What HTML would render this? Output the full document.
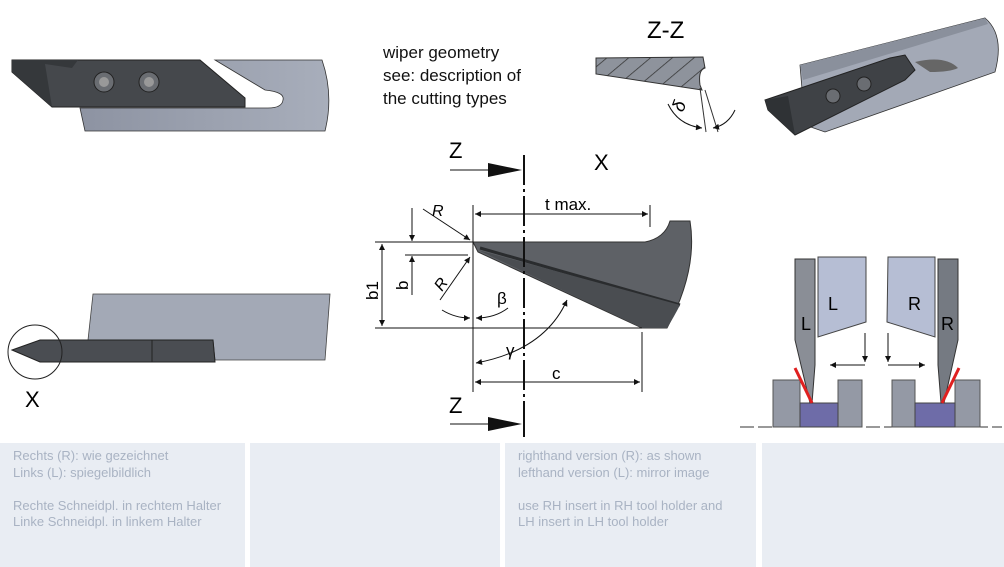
<!DOCTYPE html>
<html><head><meta charset="utf-8"><style>
body{margin:0;background:#fff;width:1004px;height:567px;overflow:hidden;font-family:"Liberation Sans","DejaVu Sans",sans-serif}
.p{position:absolute;top:443px;height:124px;background:#e9edf3;color:#a9b3c3;font-size:13px;line-height:16.5px;padding:5px 0 0 13px;box-sizing:border-box}
</style></head><body>
<svg width="1004" height="443" style="position:absolute;left:0;top:0" font-family="Liberation Sans, DejaVu Sans, sans-serif">
<defs>
<marker id="a" viewBox="0 0 10 10" refX="10" refY="5" markerWidth="9" markerHeight="6" orient="auto-start-reverse"><path d="M0,0L10,5L0,10z" fill="#111"/></marker>
<linearGradient id="hg" x1="0" x2="1"><stop offset="0" stop-color="#8d93a2"/><stop offset="1" stop-color="#a8aebb"/></linearGradient>
<pattern id="hatch" width="14" height="14" patternUnits="userSpaceOnUse" patternTransform="rotate(50)"><rect width="14" height="14" fill="#8e939c"/><line x1="0" y1="0" x2="0" y2="14" stroke="#333" stroke-width="1.5"/></pattern>
</defs>
<!-- top-left holder -->
<path d="M80,108 L85,131 L325,131 Q334,95 322,60 L215,60 L265,90 Q285,92 283,100 Q282,108 268,108 Z" fill="url(#hg)" stroke="#333" stroke-width="0.8"/>
<path d="M12,60 L200,60 L245,98 L245,107 L52,107 L12,72 Z" fill="#45484c" stroke="#222"/>
<path d="M12,60 L78,60 L72,68 L45,64 L52,107 L12,72Z" fill="#35383b"/>
<circle cx="104" cy="82" r="10" fill="#6a6d72" stroke="#222"/><circle cx="104" cy="82" r="5" fill="#999"/>
<circle cx="149" cy="82" r="10" fill="#6a6d72" stroke="#222"/><circle cx="149" cy="82" r="5" fill="#999"/>
<!-- bottom-left holder -->
<path d="M93,294 L330,294 L325,360 L215,360 L213,340 L88,340 Z" fill="#a3a9b6" stroke="#444" stroke-width="0.8"/>
<path d="M12,350 L40,340 L213,340 L215,362 L40,362 Z" fill="#4a4d52" stroke="#222"/>
<line x1="152" y1="340" x2="152" y2="362" stroke="#222"/>
<circle cx="35" cy="352" r="27" fill="none" stroke="#222"/>
<text x="25" y="407" font-size="22">X</text>
<!-- wiper text -->
<text font-size="17" fill="#111"><tspan x="383" y="58">wiper geometry</tspan><tspan x="383" y="81">see: description of</tspan><tspan x="383" y="104">the cutting types</tspan></text>
<!-- Z-Z -->
<text x="647" y="38" font-size="24">Z-Z</text>
<path d="M596,58 L703,57 L705,68 Q698,70 700,85 L702,90 L596,74 Z" fill="url(#hatch)" stroke="#333"/>
<line x1="700" y1="88" x2="706" y2="132" stroke="#333"/><line x1="705" y1="90" x2="718" y2="132" stroke="#333"/>
<path d="M668,104 Q678,125 702,128" fill="none" stroke="#111" marker-end="url(#a)"/>
<path d="M735,110 Q728,125 713,128" fill="none" stroke="#111" marker-end="url(#a)"/>
<text x="674" y="108" font-size="18" font-style="italic" transform="rotate(-70 682 104)">δ</text>
<!-- 3D tool -->
<path d="M800,65 L985,18 Q1005,35 995,72 L825,132 L805,125 Z" fill="#a3a9b6" stroke="#333" stroke-width="0.8"/>
<path d="M800,65 L985,18 L988,24 L803,80Z" fill="#8a909c"/>
<path d="M915,62 Q945,55 958,68 Q950,72 930,72 Z" fill="#666"/>
<path d="M765,100 L890,58 L905,55 L915,70 L905,80 L795,135 L768,110 Z" fill="#3f4246" stroke="#222"/>
<path d="M765,100 L788,96 L795,135 L768,110Z" fill="#2f3235"/>
<circle cx="833" cy="96" r="7" fill="#6a6d72" stroke="#222"/><circle cx="864" cy="84" r="7" fill="#6a6d72" stroke="#222"/>
<!-- center drawing -->
<path d="M473,242 L645,242 Q665,238 670,221 L690,221 Q698,270 667,328 L642,328 L478,252 Z" fill="#5e6166" stroke="#333"/>
<path d="M480,248 Q600,282 680,305" stroke="#2a2c2e" stroke-width="3" fill="none"/>
<path d="M478,250 L642,328 L667,328 Q675,315 680,305 Z" fill="#4a4d51"/>
<line x1="524" y1="155" x2="524" y2="437" stroke="#111" stroke-width="2" stroke-dasharray="30,4,3,4"/>
<line x1="524" y1="155" x2="524" y2="185" stroke="#111" stroke-width="2"/><line x1="524" y1="410" x2="524" y2="437" stroke="#111" stroke-width="2"/>
<line x1="450" y1="170" x2="490" y2="170" stroke="#111"/><path d="M488,163 L522,170 L488,177Z" fill="#111"/>
<line x1="450" y1="424" x2="490" y2="424" stroke="#111"/><path d="M488,417 L522,424 L488,431Z" fill="#111"/>
<text x="449" y="158" font-size="22">Z</text><text x="449" y="413" font-size="22">Z</text>
<text x="594" y="170" font-size="22">X</text>
<g stroke="#111" stroke-width="1" fill="none">
<line x1="473" y1="205" x2="473" y2="392"/><line x1="650" y1="205" x2="650" y2="227"/>
<line x1="475" y1="214" x2="648" y2="214" marker-start="url(#a)" marker-end="url(#a)"/>
<line x1="375" y1="242" x2="473" y2="242"/><line x1="375" y1="328" x2="642" y2="328"/>
<line x1="382" y1="244" x2="382" y2="326" marker-start="url(#a)" marker-end="url(#a)"/>
<line x1="405" y1="255" x2="468" y2="255"/>
<line x1="412" y1="208" x2="412" y2="241" marker-end="url(#a)"/><line x1="412" y1="295" x2="412" y2="256" marker-end="url(#a)"/>
<line x1="423" y1="209" x2="470" y2="240" marker-end="url(#a)"/>
<line x1="440" y1="300" x2="470" y2="257" marker-end="url(#a)"/>
<path d="M442,310 Q455,318 470,318" marker-end="url(#a)"/><path d="M508,308 Q495,318 476,318" marker-end="url(#a)"/>
<path d="M567,300 Q545,350 476,363" marker-start="url(#a)" marker-end="url(#a)"/>
<line x1="642" y1="332" x2="642" y2="392"/>
<line x1="475" y1="382" x2="640" y2="382" marker-start="url(#a)" marker-end="url(#a)"/>
</g>
<text x="545" y="210" font-size="17">t max.</text>
<text x="0" y="0" font-size="17" transform="translate(378,300) rotate(-90)">b1</text>
<text x="0" y="0" font-size="17" transform="translate(408,290) rotate(-90)">b</text>
<text x="432" y="216" font-size="16" font-style="italic">R</text>
<text x="0" y="0" font-size="16" font-style="italic" transform="translate(442,292) rotate(-55)">R</text>
<text x="497" y="304" font-size="17">β</text>
<text x="506" y="356" font-size="17">γ</text>
<text x="552" y="379" font-size="17">c</text>
<!-- L/R diagram -->
<line x1="740" y1="427" x2="1002" y2="427" stroke="#333" stroke-dasharray="14,4"/>
<rect x="773" y="380" width="27" height="47" fill="#9499a5" stroke="#555"/><rect x="838" y="380" width="24" height="47" fill="#9499a5" stroke="#555"/>
<rect x="892" y="380" width="23" height="47" fill="#9499a5" stroke="#555"/><rect x="955" y="380" width="25" height="47" fill="#9499a5" stroke="#555"/>
<rect x="800" y="403" width="38" height="24" fill="#6e6ca8" stroke="#444"/><rect x="915" y="403" width="40" height="24" fill="#6e6ca8" stroke="#444"/>
<path d="M795,259 L815,259 L815,365 L812,403 L810,403 L795,340 Z" fill="#8a8e96" stroke="#333"/>
<path d="M938,259 L958,259 L958,340 L944,403 L941,403 L938,365 Z" fill="#757a82" stroke="#333"/>
<path d="M818,257 L866,257 L866,322 L818,337 Z" fill="#b6bed4" stroke="#444"/>
<path d="M888,257 L935,257 L935,337 L887,322 Z" fill="#b6bed4" stroke="#444"/>
<line x1="795" y1="368" x2="812" y2="403" stroke="#e02020" stroke-width="3"/>
<line x1="959" y1="368" x2="942" y2="403" stroke="#e02020" stroke-width="3"/>
<text x="828" y="310" font-size="18">L</text><text x="801" y="330" font-size="18">L</text>
<text x="908" y="310" font-size="18">R</text><text x="941" y="330" font-size="18">R</text>
<g stroke="#111" fill="none"><line x1="865" y1="333" x2="865" y2="362" marker-end="url(#a)"/><line x1="865" y1="365" x2="830" y2="365" marker-end="url(#a)"/>
<line x1="888" y1="333" x2="888" y2="362" marker-end="url(#a)"/><line x1="888" y1="365" x2="925" y2="365" marker-end="url(#a)"/></g>
</svg>
<div class="p" style="left:0;width:245px">Rechts (R): wie gezeichnet<br>Links (L): spiegelbildlich<br><br>Rechte Schneidpl. in rechtem Halter<br>Linke Schneidpl. in linkem Halter</div>
<div class="p" style="left:250px;width:250px"></div>
<div class="p" style="left:505px;width:251px">righthand version (R): as shown<br>lefthand version (L): mirror image<br><br>use RH insert in RH tool holder and<br>LH insert in LH tool holder</div>
<div class="p" style="left:762px;width:242px"></div>
</body></html>
